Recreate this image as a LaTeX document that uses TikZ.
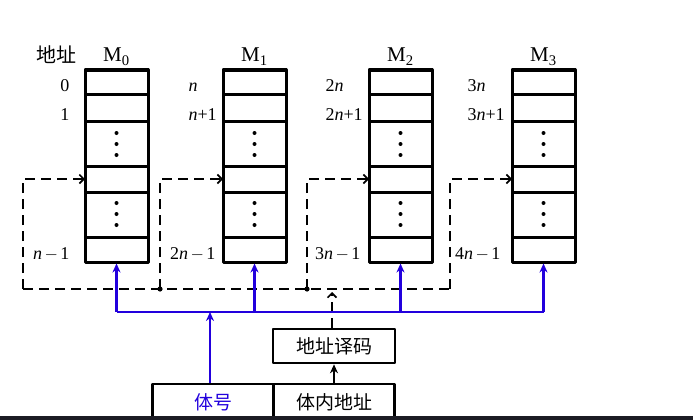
\documentclass[tikz,border=0pt]{standalone}
\usepackage{fontspec}
\setmainfont{Liberation Serif}
\newfontfamily\cjk{Noto Sans CJK SC}
\usetikzlibrary{arrows.meta}
\definecolor{busblue}{RGB}{34,0,221}
\definecolor{barclr}{RGB}{28,28,36}
\newcommand\mn{\kern2.5pt$-$\kern2.5pt}
\tikzset{
	bank/.style={draw,line width=3pt,minimum width=63pt,minimum height=192pt,inner sep=0pt},
	fld/.style={draw,line width=2.6pt,minimum width=121pt,minimum height=36pt,inner sep=0pt,font=\fontsize{19}{22}\selectfont\cjk},
	dec/.style={draw,line width=2.6pt,minimum width=122pt,minimum height=34pt,inner sep=0pt,font=\fontsize{19}{22}\selectfont\cjk},
	dashln/.style={line width=2.2pt,dash pattern=on 10pt off 6pt},
	busln/.style={busblue,line width=2.8pt},
	barb/.style={-{Straight Barb[length=4.5pt,width=9pt,line width=1.6pt]}},
	tip/.style={-{Stealth[length=9pt,width=8pt]}}
}
\begin{document}
\begin{tikzpicture}[x=1pt,y=-1pt,line join=round,font=\fontsize{18}{21}\selectfont]
	\useasboundingbox (0,0) rectangle (693,420);
	\def\bw{63}
	% memory banks M0..M3
	\foreach \i/\x/\lx in {0/85/23,1/223/160,2/369/307,3/512/450}{
		\node[bank] (m\i) at (\x+31.5,166) {};
		\foreach \y in {94.5,121,166,192,237}
			\draw[line width=3pt] (\x,\y) -- (\x+\bw,\y);
		\foreach \y in {133,144,155,203,214,225}
			\fill (\x+31.5,\y) circle (2pt);
		\node[anchor=base,font=\fontsize{21}{24}\selectfont] (t\i) at (\x+31.5,62) {M\textsubscript{\i}};
		\coordinate (in\i) at (\x,179);
		\coordinate (lp\i) at (\lx,289);
		\coordinate (bs\i) at (\x+31.5,312);
	}
	\node[anchor=base,font=\fontsize{20}{23}\selectfont\cjk] (addr) at (56,63) {地址};
	% addresses
	\node[anchor=base east] at (73,91) {0};
	\node[anchor=base east] at (73,120) {1};
	\node[anchor=base east] at (73,259) {\textit{n}\mn1};
	\node[anchor=base west] at (185,91) {\textit{n}};
	\node[anchor=base west] at (185,120) {\textit{n}+1};
	\node[anchor=base east] at (219,259) {2\textit{n}\mn1};
	\node[anchor=base west] at (322,91) {2\textit{n}};
	\node[anchor=base west] at (322,120) {2\textit{n}+1};
	\node[anchor=base east] at (364,259) {3\textit{n}\mn1};
	\node[anchor=base west] at (464,91) {3\textit{n}};
	\node[anchor=base west] at (464,120) {3\textit{n}+1};
	\node[anchor=base east] at (504,259) {4\textit{n}\mn1};
	% dashed loops
	\draw[dashln] (lp0) -- (lp3);
	\foreach \i in {0,...,3}
		\draw[dashln,barb] (lp\i) |- (in\i);
	\fill (lp1) circle (2.6pt) (lp2) circle (2.6pt);
	% decoder and address fields
	\node[dec] (decode) at (334,346) {地址译码};
	\node[fld,text=busblue] (bankno) at (213,402) {体号};
	\node[fld] (inaddr) at (334,402) {体内地址};
	\coordinate (dk) at (332,292);
	\draw[dashln,barb] (decode.north -| dk) -- (dk);
	\draw[line width=2pt,tip] (inaddr.north) -- (decode.south);
	% blue bus
	\draw[busln] (bs0) -- (bs3);
	\foreach \i in {0,...,3}
		\draw[busln,tip] (bs\i) -- (m\i.south);
	\draw[busln,tip] ([xshift=-3pt]bankno.north) -- ([xshift=-3pt]bankno.north |- bs0);
	\fill[barclr] (0,416) rectangle (693,420);
\end{tikzpicture}
\end{document}
